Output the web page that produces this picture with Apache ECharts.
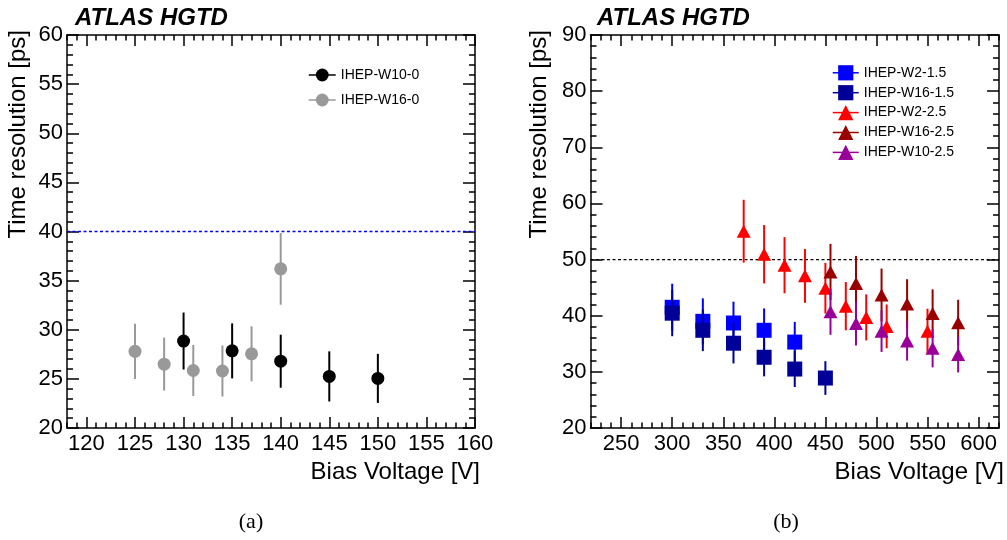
<!DOCTYPE html>
<html><head><meta charset="utf-8">
<script src="https://cdn.jsdelivr.net/npm/echarts@6/dist/echarts.min.js"></script>
<style>html,body{margin:0;padding:0;background:#fff}#c{width:1007px;height:540px}</style>
</head><body><div id="c"></div>
<script>
// ---------- Panel (a) data ----------
const voltW10_0 = [130, 135, 140, 145, 150];
const resW10_0  = [28.85, 27.85, 26.8, 25.25, 25.05];
const errW10_0  = [2.9, 2.8, 2.7, 2.55, 2.5];
const voltW16_0 = [125, 128, 131, 134, 137, 140];
const resW16_0  = [27.8, 26.5, 25.85, 25.8, 27.55, 36.2];
const errW16_0  = [2.8, 2.7, 2.6, 2.6, 2.8, 3.65];
// ---------- Panel (b) data ----------
const voltW2_15  = [300, 330, 360, 390, 420];
const resW2_15   = [41.5, 39.0, 38.7, 37.4, 35.3];
const errW2_15   = [4.2, 4.1, 3.8, 3.9, 3.6];
const voltW16_15 = [300, 330, 360, 390, 420, 450];
const resW16_15  = [40.45, 37.4, 35.1, 32.6, 30.5, 28.9];
const errW16_15  = [4.1, 3.7, 3.6, 3.4, 3.2, 3.0];
const voltW2_25  = [370, 390, 410, 430, 450, 470, 490, 510, 550];
const resW2_25   = [55.05, 50.95, 49.0, 47.1, 44.9, 41.7, 39.7, 38.1, 37.25];
const errW2_25   = [5.6, 5.2, 5.0, 4.8, 4.5, 4.3, 4.1, 3.9, 4.0];
const voltW16_25 = [455, 480, 505, 530, 555, 580];
const resW16_25  = [47.8, 45.75, 43.7, 42.1, 40.4, 38.75];
const errW16_25  = [5.0, 4.9, 4.7, 4.4, 4.3, 4.1];
const voltW10_25 = [455, 480, 505, 530, 555, 580];
const resW10_25  = [40.7, 38.6, 37.25, 35.5, 34.2, 33.1];
const errW10_25  = [4.1, 3.9, 3.7, 3.5, 3.4, 3.2];
// ---------- reference lines ----------
const refLineA = 40;
const refLineB = 50;
// ---------- axes / ticks ----------
const xRangeA = [118, 160];
const yRangeA = [20, 60];
const xRangeB = [220, 620];
const yRangeB = [20, 90];
const xTicksA = [120, 125, 130, 135, 140, 145, 150, 155, 160];
const xTicksB = [250, 300, 350, 400, 450, 500, 550, 600];
const xMinorA = [];
for (let v = 118; v <= 160; v += 1) xMinorA.push(v);
const xMinorB = [];
for (let v = 220; v <= 620; v += 10) xMinorB.push(v);
const yIntervalA = 5, yIntervalB = 10;
// ---------- labels ----------
const xTitle = 'Bias Voltage [V]';
const yTitle = 'Time resolution [ps]';
const atlasLabel = 'ATLAS HGTD';
const panelLabels = ['(a)', '(b)'];

const FONT = '"Liberation Sans", Arial, Helvetica, sans-serif';
const LW = 1.5;

function xAxes(grid, range, majors, minors) {
  const base = {type: 'value', gridIndex: grid, min: range[0], max: range[1], splitLine: {show: false}};
  return [
    Object.assign({}, base, {position: 'bottom',
      axisLine: {show: true, onZero: false, lineStyle: {color: '#000', width: LW}},
      axisTick: {show: true, inside: true, length: 11, customValues: majors, lineStyle: {color: '#000', width: LW}},
      axisLabel: {show: true, customValues: majors, margin: 5, fontSize: 22, color: '#000', fontFamily: FONT}}),
    Object.assign({}, base, {position: 'bottom',
      axisLine: {show: false, onZero: false},
      axisTick: {show: true, inside: true, length: 5.5, customValues: minors, lineStyle: {color: '#000', width: LW}},
      axisLabel: {show: false}}),
    Object.assign({}, base, {position: 'top',
      axisLine: {show: true, onZero: false, lineStyle: {color: '#000', width: LW}},
      axisTick: {show: true, inside: true, length: 11, customValues: majors, lineStyle: {color: '#000', width: LW}},
      axisLabel: {show: false}}),
    Object.assign({}, base, {position: 'top',
      axisLine: {show: false, onZero: false},
      axisTick: {show: true, inside: true, length: 5.5, customValues: minors, lineStyle: {color: '#000', width: LW}},
      axisLabel: {show: false}})
  ];
}
function yAxes(grid, range, interval) {
  const base = {type: 'value', gridIndex: grid, min: range[0], max: range[1], interval: interval,
    splitLine: {show: false}, minorSplitLine: {show: false},
    axisLine: {show: true, onZero: false, lineStyle: {color: '#000', width: LW}},
    minorTick: {show: true, splitNumber: 5, length: 6, lineStyle: {color: '#000', width: LW}}};
  return [
    Object.assign({}, base, {position: 'left',
      axisTick: {show: true, inside: true, length: 12, lineStyle: {color: '#000', width: LW}},
      axisLabel: {show: true, margin: 4, fontSize: 22, color: '#000', fontFamily: FONT}}),
    Object.assign({}, base, {position: 'right',
      axisTick: {show: true, inside: true, length: 12, lineStyle: {color: '#000', width: LW}},
      axisLabel: {show: false}})
  ];
}

function errSeries(xi, yi, xs, ys, es, color, z) {
  return {type: 'custom', xAxisIndex: xi, yAxisIndex: yi, z: z, silent: true, animation: false,
    data: xs.map((x, i) => [x, ys[i], es[i]]),
    encode: {x: 0, y: 1},
    renderItem: function (params, api) {
      const x = api.value(0), y = api.value(1), e = api.value(2);
      const a = api.coord([x, y - e]), b = api.coord([x, y + e]);
      return {type: 'line', shape: {x1: a[0], y1: a[1], x2: b[0], y2: b[1]},
        style: {stroke: color, lineWidth: 2}};
    }};
}
function markSeries(name, xi, yi, xs, ys, color, symbol, size, z) {
  return {type: 'line', name: name, xAxisIndex: xi, yAxisIndex: yi, z: z,
    data: xs.map((x, i) => [x, ys[i]]),
    symbol: symbol, symbolSize: size, showSymbol: true, showAllSymbol: true,
    itemStyle: {color: color, borderWidth: 0, opacity: 1},
    lineStyle: {color: color, width: 0},
    emphasis: {disabled: true}, silent: true, animation: false};
}
function refSeries(xi, yi, xr, val, color) {
  return {type: 'custom', xAxisIndex: xi, yAxisIndex: yi, z: 1, silent: true, animation: false,
    data: [[xr[0], xr[1], val]],
    encode: {x: [0, 1], y: 2},
    renderItem: function (params, api) {
      const a = api.coord([api.value(0), api.value(2)]);
      const b = api.coord([api.value(1), api.value(2)]);
      return {type: 'line', shape: {x1: a[0], y1: a[1], x2: b[0], y2: b[1]},
        style: {stroke: color, lineWidth: 1.3, lineDash: [3, 2.5], fill: null}};
    }};
}

const seriesList = [];
seriesList.push(refSeries(0, 0, xRangeA, refLineA, '#0000ff'));
seriesList.push(refSeries(4, 2, xRangeB, refLineB, '#000000'));
const graphsA = [
  ['IHEP-W10-0', voltW10_0, resW10_0, errW10_0, '#000000', 'circle', 13],
  ['IHEP-W16-0', voltW16_0, resW16_0, errW16_0, '#999999', 'circle', 13]
];
const graphsB = [
  ['IHEP-W2-1.5',  voltW2_15,  resW2_15,  errW2_15,  '#0000ff', 'rect', 15],
  ['IHEP-W16-1.5', voltW16_15, resW16_15, errW16_15, '#000099', 'rect', 15],
  ['IHEP-W2-2.5',  voltW2_25,  resW2_25,  errW2_25,  '#ff0000', 'triangle', [14, 13]],
  ['IHEP-W16-2.5', voltW16_25, resW16_25, errW16_25, '#990000', 'triangle', [14, 13]],
  ['IHEP-W10-2.5', voltW10_25, resW10_25, errW10_25, '#990099', 'triangle', [14, 13]]
];
graphsA.forEach((g, i) => {
  seriesList.push(errSeries(0, 0, g[1], g[2], g[3], g[4], 2 + 2 * i));
  seriesList.push(markSeries(g[0], 0, 0, g[1], g[2], g[4], g[5], g[6], 3 + 2 * i));
});
graphsB.forEach((g, i) => {
  seriesList.push(errSeries(4, 2, g[1], g[2], g[3], g[4], 2 + 2 * i));
  seriesList.push(markSeries(g[0], 4, 2, g[1], g[2], g[4], g[5], g[6], 3 + 2 * i));
});

function txt(x, y, text, opts) {
  return Object.assign({type: 'text', x: x, y: y, silent: true,
    style: Object.assign({text: text, fill: '#000', fontFamily: FONT, fontSize: 24},
      opts.style)}, opts.el || {});
}
const leftStyle = {align: 'left', textAlign: 'left', verticalAlign: 'middle', textVerticalAlign: 'middle'};
const rightStyle = {align: 'right', textAlign: 'right', verticalAlign: 'middle', textVerticalAlign: 'middle'};
const centerStyle = {align: 'center', textAlign: 'center', verticalAlign: 'middle', textVerticalAlign: 'middle'};

const option = {
  backgroundColor: '#ffffff',
  animation: false,
  grid: [
    {left: 67, top: 35, width: 408, height: 393, containLabel: false, outerBoundsMode: 'none'},
    {left: 590.5, top: 35, width: 408.5, height: 393, containLabel: false, outerBoundsMode: 'none'}
  ],
  xAxis: [].concat(xAxes(0, xRangeA, xTicksA, xMinorA), xAxes(1, xRangeB, xTicksB, xMinorB)),
  yAxis: [].concat(yAxes(0, yRangeA, yIntervalA), yAxes(1, yRangeB, yIntervalB)),
  legend: [
    {data: graphsA.map(g => g[0]), orient: 'vertical', left: 308, top: 68, padding: 0,
      itemWidth: 27, itemHeight: 16, itemGap: 11, selectedMode: false,
      textStyle: {fontSize: 14, color: '#000', fontFamily: FONT},
      lineStyle: {width: 1.5}},
    {data: graphsB.map(g => g[0]), orient: 'vertical', left: 832, top: 65.2, padding: 0,
      itemWidth: 26, itemHeight: 19, itemGap: 4.7, selectedMode: false,
      textStyle: {fontSize: 14, color: '#000', fontFamily: FONT},
      lineStyle: {width: 1.5}}
  ],
  graphic: [
    txt(75, 18, atlasLabel, {style: Object.assign({fontWeight: 'bold', fontStyle: 'italic'}, leftStyle)}),
    txt(597, 18, atlasLabel, {style: Object.assign({fontWeight: 'bold', fontStyle: 'italic'}, leftStyle)}),
    txt(480, 472, xTitle, {style: rightStyle}),
    txt(1004, 472, xTitle, {style: rightStyle}),
    txt(18.5, 30, yTitle, {style: rightStyle, el: {rotation: Math.PI / 2}}),
    txt(539, 30, yTitle, {style: rightStyle, el: {rotation: Math.PI / 2}}),
    txt(251, 522, panelLabels[0], {style: Object.assign({fontFamily: '"Liberation Serif", "Times New Roman", serif', fontSize: 22}, centerStyle)}),
    txt(786, 522, panelLabels[1], {style: Object.assign({fontFamily: '"Liberation Serif", "Times New Roman", serif', fontSize: 22}, centerStyle)})
  ],
  series: seriesList
};
const chart = echarts.init(document.getElementById('c'), null, {renderer: 'canvas'});
chart.setOption(option);
</script>
</body></html>
